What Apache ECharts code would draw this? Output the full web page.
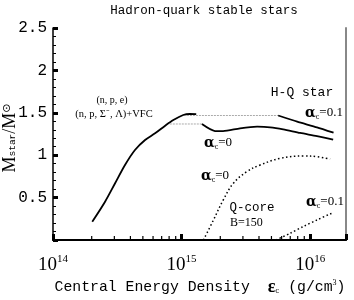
<!DOCTYPE html>
<html><head><meta charset="utf-8">
<script src="https://cdn.jsdelivr.net/npm/echarts@6/dist/echarts.min.js"></script>
<style>html,body{margin:0;padding:0;background:#fff}#c{width:354px;height:300px}</style>
</head><body><div id="c"></div>
<script>
// Hadronic branch (n,p,Σ-,Λ)+VFC
const hadronE = [2.02e14, 2.54e14, 3.04e14, 3.63e14, 4.34e14, 5.20e14, 6.22e14, 7.45e14, 8.63e14, 1.03e15, 1.16e15, 1.30e15];
const hadronM = [0.216, 0.452, 0.669, 0.884, 1.061, 1.179, 1.258, 1.348, 1.415, 1.474, 1.486, 1.484];
// grey connectors (mixed phase plateaus)
const plateauHiE = [1.10e15, 5.64e15];
const plateauHiM = [1.468, 1.468];
const plateauLoE = [8.1e14, 1.44e15];
const plateauLoM = [1.368, 1.368];
// H-Q star, alpha_c = 0.1
const hq01E = [5.64e15, 7.93e15, 1.13e16, 1.52e16];
const hq01M = [1.468, 1.395, 1.329, 1.265];
// H-Q star, alpha_c = 0
const hq0E = [1.44e15, 1.82e15, 2.10e15, 2.85e15, 3.87e15, 4.89e15, 6.17e15, 8.36e15, 1.13e16, 1.51e16];
const hq0M = [1.368, 1.285, 1.283, 1.317, 1.336, 1.329, 1.305, 1.262, 1.226, 1.185];
// Quark core mass, alpha_c = 0
const qc0E = [1.48e15, 1.77e15, 2.11e15, 2.53e15, 3.21e15, 4.08e15, 5.84e15, 8.87e15, 1.13e16, 1.43e16];
const qc0M = [0, 0.236, 0.472, 0.669, 0.805, 0.884, 0.963, 0.991, 0.982, 0.955];
// Quark core mass, alpha_c = 0.1
const qc01E = [5.43e15, 6.98e15, 8.87e15, 1.13e16, 1.43e16, 1.52e16];
const qc01M = [0, 0.079, 0.16, 0.236, 0.307, 0.32];
// minor ticks on the log axis
const xMinorTicks = [2e14,3e14,4e14,5e14,6e14,7e14,8e14,9e14,2e15,3e15,4e15,5e15,6e15,7e15,8e15,9e15];
const yTickLabels = ['', '0.5', '1', '1.5', '2', '2.5'];

const zip = (a, b) => a.map((v, i) => [v, b[i]]);
const mono = 'Liberation Mono';
const serif = 'Liberation Serif';

const alphaRich = {
  a: {fontFamily: 'DejaVu Serif', fontWeight: 'bold', fontSize: 14, color: '#000'},
  c: {fontFamily: serif, fontSize: 8, color: '#000', padding: [8, 0, 0, 0]},
  t: {fontFamily: serif, fontSize: 13, color: '#000'}
};
function txt(x, y, text, style) {
  return {type: 'text', x: x, y: y, style: Object.assign({text: text, fill: '#000', align: 'center', verticalAlign: 'middle'}, style)};
}

const chart = echarts.init(document.getElementById('c'));
chart.setOption({
  animation: false,
  backgroundColor: '#fff',
  grid: {left: 53, right: 8, top: 28, bottom: 60},
  xAxis: [{
    type: 'log', logBase: 10, min: 1e14, max: 1.9e16,
    axisLine: {lineStyle: {color: '#000', width: 2}},
    axisTick: {inside: true, length: 6, lineStyle: {color: '#000', width: 3}},
    splitLine: {show: false},
    axisLabel: {
      margin: 14,
      formatter: function (v) {
        const e = Math.round(Math.log10(v));
        if (Math.abs(Math.log10(v) - e) > 1e-6) return '';
        return '{b|10}{s|' + e + '}';
      },
      rich: {
        b: {fontFamily: serif, fontSize: 19, color: '#000'},
        s: {fontFamily: serif, fontSize: 11, color: '#000', padding: [0, 0, 12, 0]}
      }
    }
  }, {
    type: 'log', logBase: 10, min: 1e14, max: 1.9e16, position: 'top',
    axisLine: {show: true, lineStyle: {color: '#000', width: 1.5}},
    axisTick: {show: false}, axisLabel: {show: false}, splitLine: {show: false}
  }],
  yAxis: [{
    type: 'value', min: 0, max: 2.5, interval: 0.5,
    axisLine: {show: true, lineStyle: {color: '#000', width: 1.5}},
    axisTick: {inside: true, length: 5, lineStyle: {color: '#000', width: 3}},
    minorTick: {show: true, splitNumber: 5, length: 3, lineStyle: {color: '#000', width: 1}},
    splitLine: {show: false},
    axisLabel: {
      margin: 6, color: '#000', fontFamily: mono, fontSize: 16,
      formatter: function (v) { return yTickLabels[Math.round(v / 0.5)]; }
    }
  }, {
    type: 'value', min: 0, max: 2.5, position: 'right',
    axisLine: {show: true, lineStyle: {color: '#888', width: 2}},
    axisTick: {show: false}, axisLabel: {show: false}, splitLine: {show: false}
  }],
  series: [
    {type: 'line', data: zip(hadronE, hadronM), smooth: 0.3, symbol: 'none',
     lineStyle: {color: '#000', width: 1.8}},
    {type: 'line', data: zip(plateauHiE, plateauHiM), symbol: 'none',
     lineStyle: {color: '#aaa', width: 1, type: [2, 1]}},
    {type: 'line', data: zip(plateauLoE, plateauLoM), symbol: 'none',
     lineStyle: {color: '#aaa', width: 1, type: [2, 1]}},
    {type: 'line', data: zip(hq01E, hq01M), smooth: 0.2, symbol: 'none',
     lineStyle: {color: '#000', width: 1.8}},
    {type: 'line', data: zip(hq0E, hq0M), smooth: 0.25, symbol: 'none',
     lineStyle: {color: '#000', width: 1.8}},
    {type: 'line', data: zip(qc0E, qc0M), smooth: 0.4, symbol: 'none',
     lineStyle: {color: '#000', width: 1.5, type: [1.5, 2.5]}},
    {type: 'line', data: zip(qc01E, qc01M), smooth: 0.3, symbol: 'none',
     lineStyle: {color: '#000', width: 1.5, type: [1.5, 2.5]}},
    {type: 'custom', data: xMinorTicks.map(v => [v, 0]), silent: true,
     renderItem: function (params, api) {
       const p = api.coord([api.value(0), 0]);
       return {type: 'line', shape: {x1: p[0], y1: p[1], x2: p[0], y2: p[1] - 4},
               style: {stroke: '#000', lineWidth: 1.2}};
     }}
  ],
  graphic: [
    txt(204, 11, 'Hadron-quark stable stars', {fontFamily: mono, fontSize: 12.5}),
    txt(112, 100, '(n, p, e)', {fontFamily: serif, fontSize: 10}),
    txt(114, 114, '(n, p, Σ⁻, Λ)+VFC', {fontFamily: serif, fontSize: 10.5}),
    txt(302, 93, 'H-Q star', {fontFamily: mono, fontSize: 13}),
    txt(324, 113, '{a|α}{c|c}{t|=0.1}', {rich: alphaRich}),
    txt(218, 143, '{a|α}{c|c}{t|=0}', {rich: alphaRich}),
    txt(215, 176, '{a|α}{c|c}{t|=0}', {rich: alphaRich}),
    txt(252, 208, 'Q-core', {fontFamily: mono, fontSize: 12.5}),
    txt(230, 223, 'B=150', {fontFamily: serif, fontSize: 12, align: 'left'}),
    txt(325, 202, '{a|α}{c|c}{t|=0.1}', {rich: alphaRich}),
    txt(200, 287, '{n|Central Energy Density  }{e|ε}{c|c}{n| (g/cm}{s|3}{n|)}', {rich: {
      n: {fontFamily: mono, fontSize: 14.8, color: '#000'},
      e: {fontFamily: serif, fontSize: 18, fontWeight: 'bold', color: '#000'},
      c: {fontFamily: serif, fontSize: 9, color: '#000', padding: [8, 0, 0, 0]},
      s: {fontFamily: serif, fontSize: 8, color: '#000', padding: [0, 0, 8, 0]}
    }}),
    {type: 'text', x: 10, y: 138, rotation: Math.PI / 2,
     style: {text: '{m|M}{s|star}{m|/M}{o|⊙}', align: 'center', verticalAlign: 'middle', rich: {
       m: {fontFamily: serif, fontSize: 18, color: '#000'},
       s: {fontFamily: mono, fontSize: 9.5, color: '#000', padding: [5, 0, 0, 0]},
       o: {fontFamily: 'DejaVu Sans', fontSize: 11, color: '#000', padding: [0, 0, 6, 0]}
     }}}
  ]
});
</script></body></html>
